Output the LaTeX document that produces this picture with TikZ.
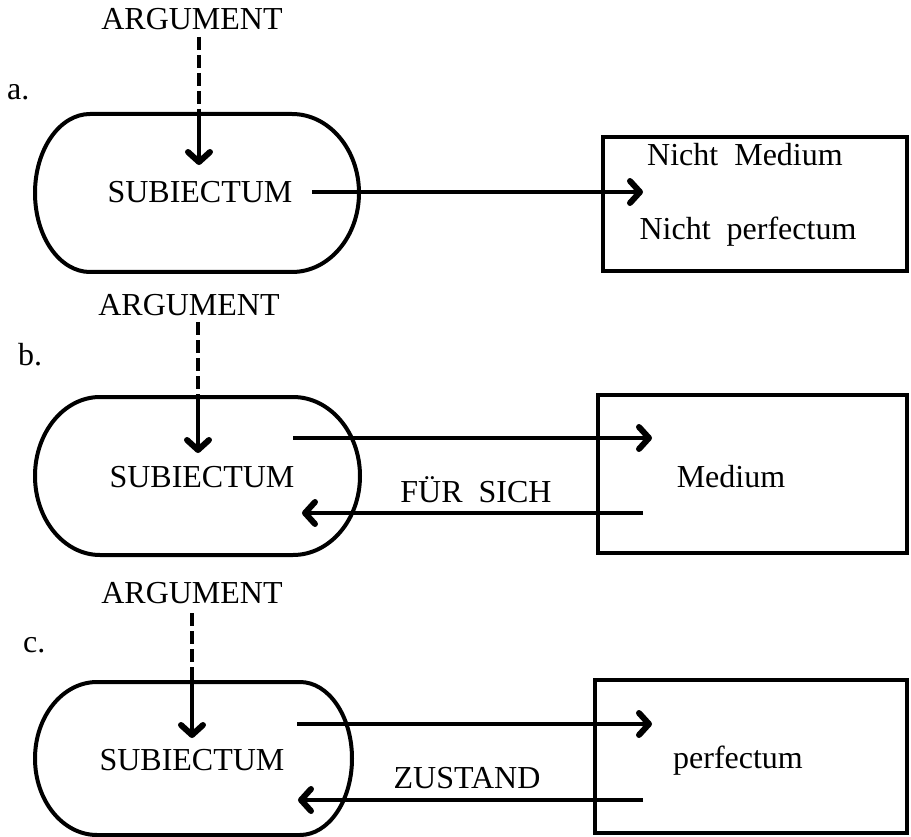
\documentclass[tikz,border=0pt]{standalone}
\usepackage{fontspec}
\setmainfont{Liberation Serif}
\usetikzlibrary{arrows.meta}
\begin{document}
\begin{tikzpicture}[x=1pt,y=-1pt,
  lbl/.style={font=\fontsize{32}{38}\selectfont, inner sep=0pt, anchor=base},
  tag/.style={font=\fontsize{32}{38}\selectfont, inner sep=0pt, anchor=base west},
  outline/.style={line width=4pt, line join=round},
  boxst/.style={draw, line width=3.6pt, inner sep=0pt},
  conn/.style={line width=3.2pt, -{Straight Barb[length=10pt,width=22pt,line width=6pt,round]}},
  dashline/.style={line width=3.6pt, dash pattern=on 13pt off 5pt}]
\useasboundingbox (0,0) rectangle (911,837);

% ---------- a ----------
\node[tag] (la) at (7,100) {a.};
\node[lbl] (arga) at (192,30) {ARGUMENT};
\node[lbl] (suba) at (200,203) {SUBIECTUM};
\draw[outline] (90,114) -- (292,114) arc[start angle=90,end angle=-90,x radius=67pt,y radius=79pt]
  -- (90,272) arc[start angle=270,end angle=90,x radius=55pt,y radius=79pt] -- cycle;
\node[boxst, minimum width=304pt, minimum height=134pt] (boxa) at (755,204) {};
\node[lbl] (nma) at (745,166) {Nicht\ \ Medium};
\node[lbl] (npa) at (748,240) {Nicht\ \ perfectum};
\coordinate (da0) at (199,37);
\coordinate (da1) at (199,114);
\coordinate (da2) at (199,165);
\draw[dashline] (da0) -- (da1);
\draw[conn] (da1) -- (da2);
\coordinate (ra0) at (312,192);
\coordinate (ra1) at (643,192);
\draw[conn] (ra0) -- (ra1);

% ---------- b ----------
\node[tag] (lb) at (18,365) {b.};
\node[lbl] (argb) at (189,316) {ARGUMENT};
\node[lbl] (subb) at (202,487) {SUBIECTUM};
\draw[outline] (100,397) -- (293,397) arc[start angle=90,end angle=-90,x radius=67pt,y radius=79pt]
  -- (100,555) arc[start angle=270,end angle=90,x radius=65pt,y radius=79pt] -- cycle;
\node[boxst, minimum width=309pt, minimum height=158pt] (boxb) at (752.5,474) {};
\node[lbl] (meb) at (731,487) {Medium};
\node[lbl] (fsb) at (476,502) {FÜR\ \ SICH};
\coordinate (db0) at (198,322);
\coordinate (db1) at (198,397);
\coordinate (db2) at (198,453);
\draw[dashline] (db0) -- (db1);
\draw[conn] (db1) -- (db2);
\coordinate (rb0) at (293,438);
\coordinate (rb1) at (652,438);
\draw[conn] (rb0) -- (rb1);
\coordinate (qb0) at (643,513);
\coordinate (qb1) at (302,513);
\draw[conn] (qb0) -- (qb1);

% ---------- c ----------
\node[tag] (lc) at (23,652) {c.};
\node[lbl] (argc) at (192,603) {ARGUMENT};
\node[lbl] (subc) at (192,770) {SUBIECTUM};
\draw[outline] (97,682) -- (300,682) arc[start angle=90,end angle=-90,x radius=52pt,y radius=76.5pt]
  -- (97,835) arc[start angle=270,end angle=90,x radius=62pt,y radius=76.5pt] -- cycle;
\node[boxst, minimum width=312pt, minimum height=153pt] (boxc) at (751,756.5) {};
\node[lbl] (pfc) at (738,768) {perfectum};
\node[lbl] (zsc) at (467,788) {ZUSTAND};
\coordinate (dc0) at (192,613);
\coordinate (dc1) at (192,682);
\coordinate (dc2) at (192,738);
\draw[dashline] (dc0) -- (dc1);
\draw[conn] (dc1) -- (dc2);
\coordinate (rc0) at (297,724);
\coordinate (rc1) at (652,724);
\draw[conn] (rc0) -- (rc1);
\coordinate (qc0) at (643,800);
\coordinate (qc1) at (298,800);
\draw[conn] (qc0) -- (qc1);
\end{tikzpicture}
\end{document}
